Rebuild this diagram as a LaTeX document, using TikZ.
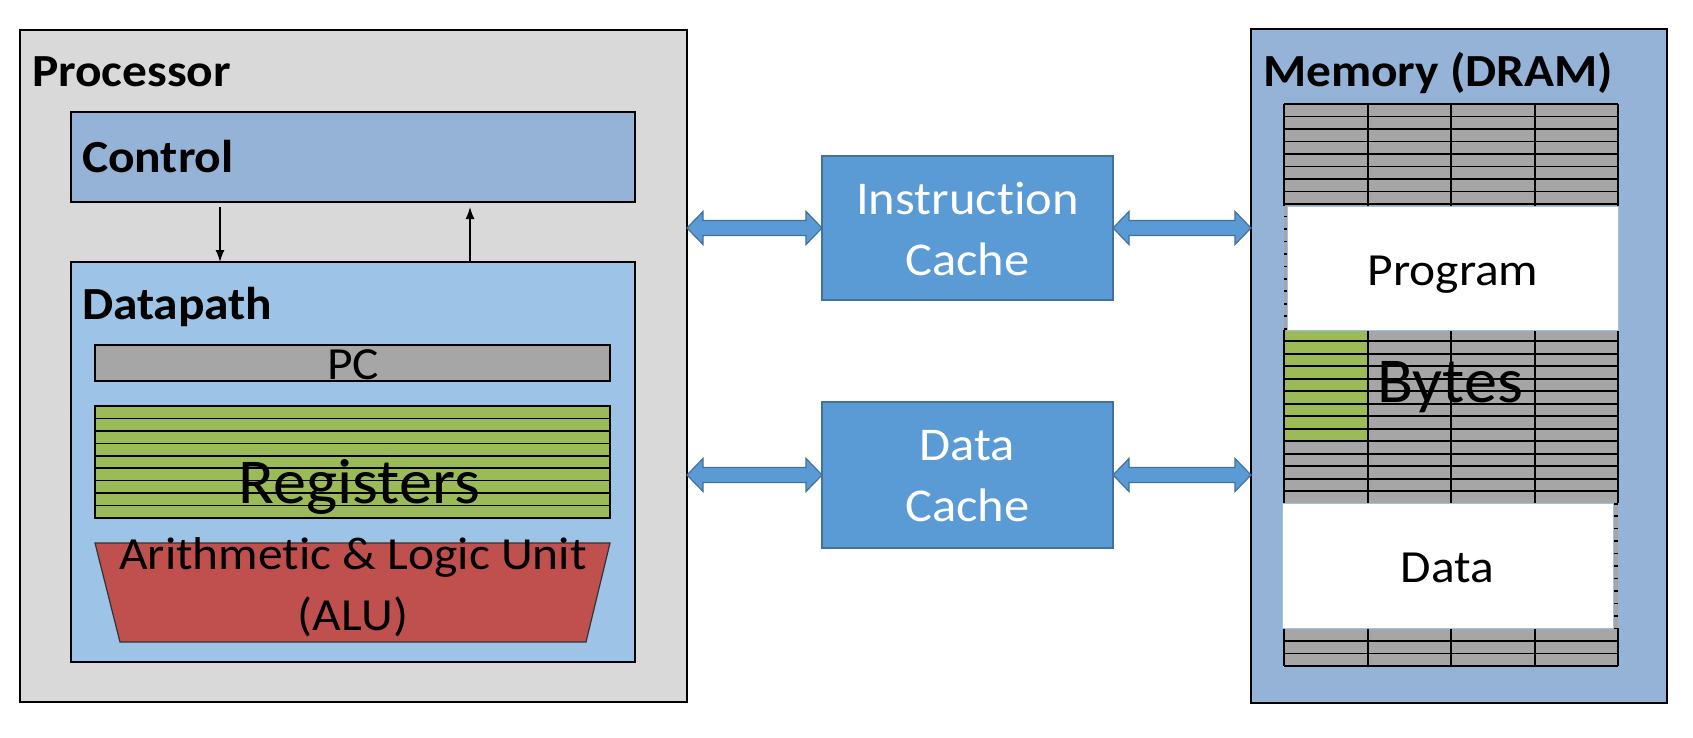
\documentclass[tikz,border=0pt]{standalone}
\usepackage{fontspec}
\setmainfont{Carlito}[Ligatures=NoCommon]
\usetikzlibrary{calc,arrows.meta}
\definecolor{procgray}{HTML}{D9D9D9}
\definecolor{ctrlblue}{HTML}{95B3D7}
\definecolor{dpblue}{HTML}{9DC3E6}
\definecolor{pcgray}{HTML}{A6A6A6}
\definecolor{reggreen}{HTML}{9BBB59}
\definecolor{alured}{HTML}{C0504D}
\definecolor{cacheblue}{HTML}{5B9BD5}
\definecolor{cacheedge}{HTML}{41719C}
\definecolor{whiteedge}{HTML}{9DC3E6}
\newcommand{\wx}[1]{\scalebox{1.075}[1]{#1}}
\newcommand{\wxb}[1]{\scalebox{1.035}[1]{#1}}
\newcommand{\blockarrow}[2]{%
  \draw[blockarr] (#1) -- ($(#1)+(16,-16.5)$) -- ($(#1)+(16,-7.5)$) -- ($(#2)+(-16,-7.5)$) -- ($(#2)+(-16,-16.5)$) -- (#2) -- ($(#2)+(-16,16.5)$) -- ($(#2)+(-16,7.5)$) -- ($(#1)+(16,7.5)$) -- ($(#1)+(16,16.5)$) -- cycle;}
\begin{document}
\begin{tikzpicture}[x=1pt,y=-1pt,
  every node/.style={inner sep=0pt, outer sep=0pt},
  box/.style={draw=black, line width=1.5pt},
  headtxt/.style={font=\fontsize{46}{55}\selectfont\bfseries, anchor=base west},
  midtxt/.style={font=\fontsize{46}{55}\selectfont, anchor=base},
  bigtxt/.style={font=\fontsize{64}{76}\selectfont, anchor=base},
  cachetxt/.style={font=\fontsize{47}{56}\selectfont, anchor=base, text=white},
  cachebox/.style={fill=cacheblue, draw=cacheedge, line width=1.2pt},
  blockarr/.style={fill=cacheblue, draw=cacheedge, line width=1.2pt, line join=miter},
  stripe/.style={draw=black, line width=1.6pt},
  memline/.style={draw=black, line width=1.7pt},
  memvline/.style={draw=black, line width=2pt},
  whitebox/.style={fill=white, draw=whiteedge, line width=1pt},
  thinarr/.style={draw=black, line width=1.3pt, -{Latex[length=12pt,width=9pt]}},
  alustyle/.style={fill=alured, draw=black!80, line width=1.2pt},
]
\useasboundingbox (0,0) rectangle (1693,738);
\fill[white] (0,0) rectangle (1693,738);

% Processor
\node[box, fill=procgray, minimum width=667pt, minimum height=672pt, anchor=north west] (proc) at (20,30) {};
\node[headtxt] (proct) at (32,87) {\wx{Processor}};
\node[box, fill=ctrlblue, minimum width=564pt, minimum height=90pt, anchor=north west] (ctrl) at (71,112) {};
\node[headtxt] (ctrlt) at (82,172) {\wx{Control}};
\node[box, fill=dpblue, minimum width=564pt, minimum height=400pt, anchor=north west] (dp) at (71,262) {};
\node[headtxt] (dpt) at (82,319) {\wx{Datapath}};

\coordinate (dstart) at (220,207);
\draw[thinarr] (dstart) -- (dstart |- dp.north);
\coordinate (uend) at (470,207);
\draw[thinarr] (uend |- dp.north) -- (uend);

\node[box, fill=pcgray, minimum width=515pt, minimum height=36pt, anchor=north west] (pc) at (95,345) {};
\node[midtxt] (pct) at (353,379) {\wx{PC}};

\node[box, fill=reggreen, minimum width=515pt, minimum height=112pt, anchor=north west] (reg) at (95,406) {};
\foreach \i in {1,...,8}{
  \draw[stripe] ($(reg.north west)+(0,\i*12.44)$) -- ++(515,0);
}
\node[bigtxt] (regt) at (359,503) {\wxb{Registers}};

\draw[alustyle] (95,543) -- (610,543) -- (586,642) -- (120,642) -- cycle;
\node[midtxt] (alut1) at (353,569) {\wx{Arithmetic \& Logic Unit}};
\node[midtxt] (alut2) at (353,630) {\wx{(ALU)}};

% Caches
\node[cachebox, minimum width=291pt, minimum height=144pt, anchor=north west] (ic) at (822,156) {};
\node[cachetxt] (ict1) at (967.5,214) {\wx{Instruction}};
\node[cachetxt] (ict2) at (967.5,275) {\wx{Cache}};
\node[cachebox, minimum width=291pt, minimum height=146pt, anchor=north west] (dc) at (822,402) {};
\node[cachetxt] (dct1) at (967.5,460) {\wx{Data}};
\node[cachetxt] (dct2) at (967.5,521) {\wx{Cache}};

% Memory
\node[box, fill=ctrlblue, minimum width=416pt, minimum height=674pt, anchor=north west] (mem) at (1251,29) {};
\node[headtxt] (memt) at (1263,87) {\wx{Memory (DRAM)}};

\fill[pcgray] (1284,104) rectangle (1618,666);
\fill[reggreen] (1284,328.8) rectangle (1367.5,441.2);
\foreach \i in {0,...,45}{
  \pgfmathsetmacro\yy{104+\i*12.489}
  \draw[memline] (1284,\yy) -- (1618,\yy);
}
\foreach \xx in {1367.5,1451,1534.5}{
  \draw[memvline] (\xx,104) -- (\xx,666);
}
\draw[memvline] (1284,104) -- (1284,206);
\draw[memvline] (1284,330) -- (1284,666);
\draw[memvline] (1618,104) -- (1618,503);
\draw[memvline] (1618,628) -- (1618,666);

\node[whitebox, minimum width=331pt, minimum height=124pt, anchor=north west] (prog) at (1287,206) {};
\node[midtxt] (progt) at (1453,285) {\wx{Program}};
\node[bigtxt] (bytest) at (1450,402) {\wxb{Bytes}};
\node[whitebox, minimum width=331pt, minimum height=125pt, anchor=north west] (data) at (1282,503) {};
\node[midtxt] (datat) at (1447.5,582) {\wx{Data}};

% Block arrows
\coordinate (ia1) at (proc.east |- ic.west);
\coordinate (ia2) at (ic.west);
\blockarrow{ia1}{ia2}
\coordinate (ib1) at (ic.east);
\coordinate (ib2) at (mem.west |- ic.east);
\blockarrow{ib1}{ib2}
\coordinate (da1) at (proc.east |- dc.west);
\coordinate (da2) at (dc.west);
\blockarrow{da1}{da2}
\coordinate (db1) at (dc.east);
\coordinate (db2) at (mem.west |- dc.east);
\blockarrow{db1}{db2}
\end{tikzpicture}
\end{document}
